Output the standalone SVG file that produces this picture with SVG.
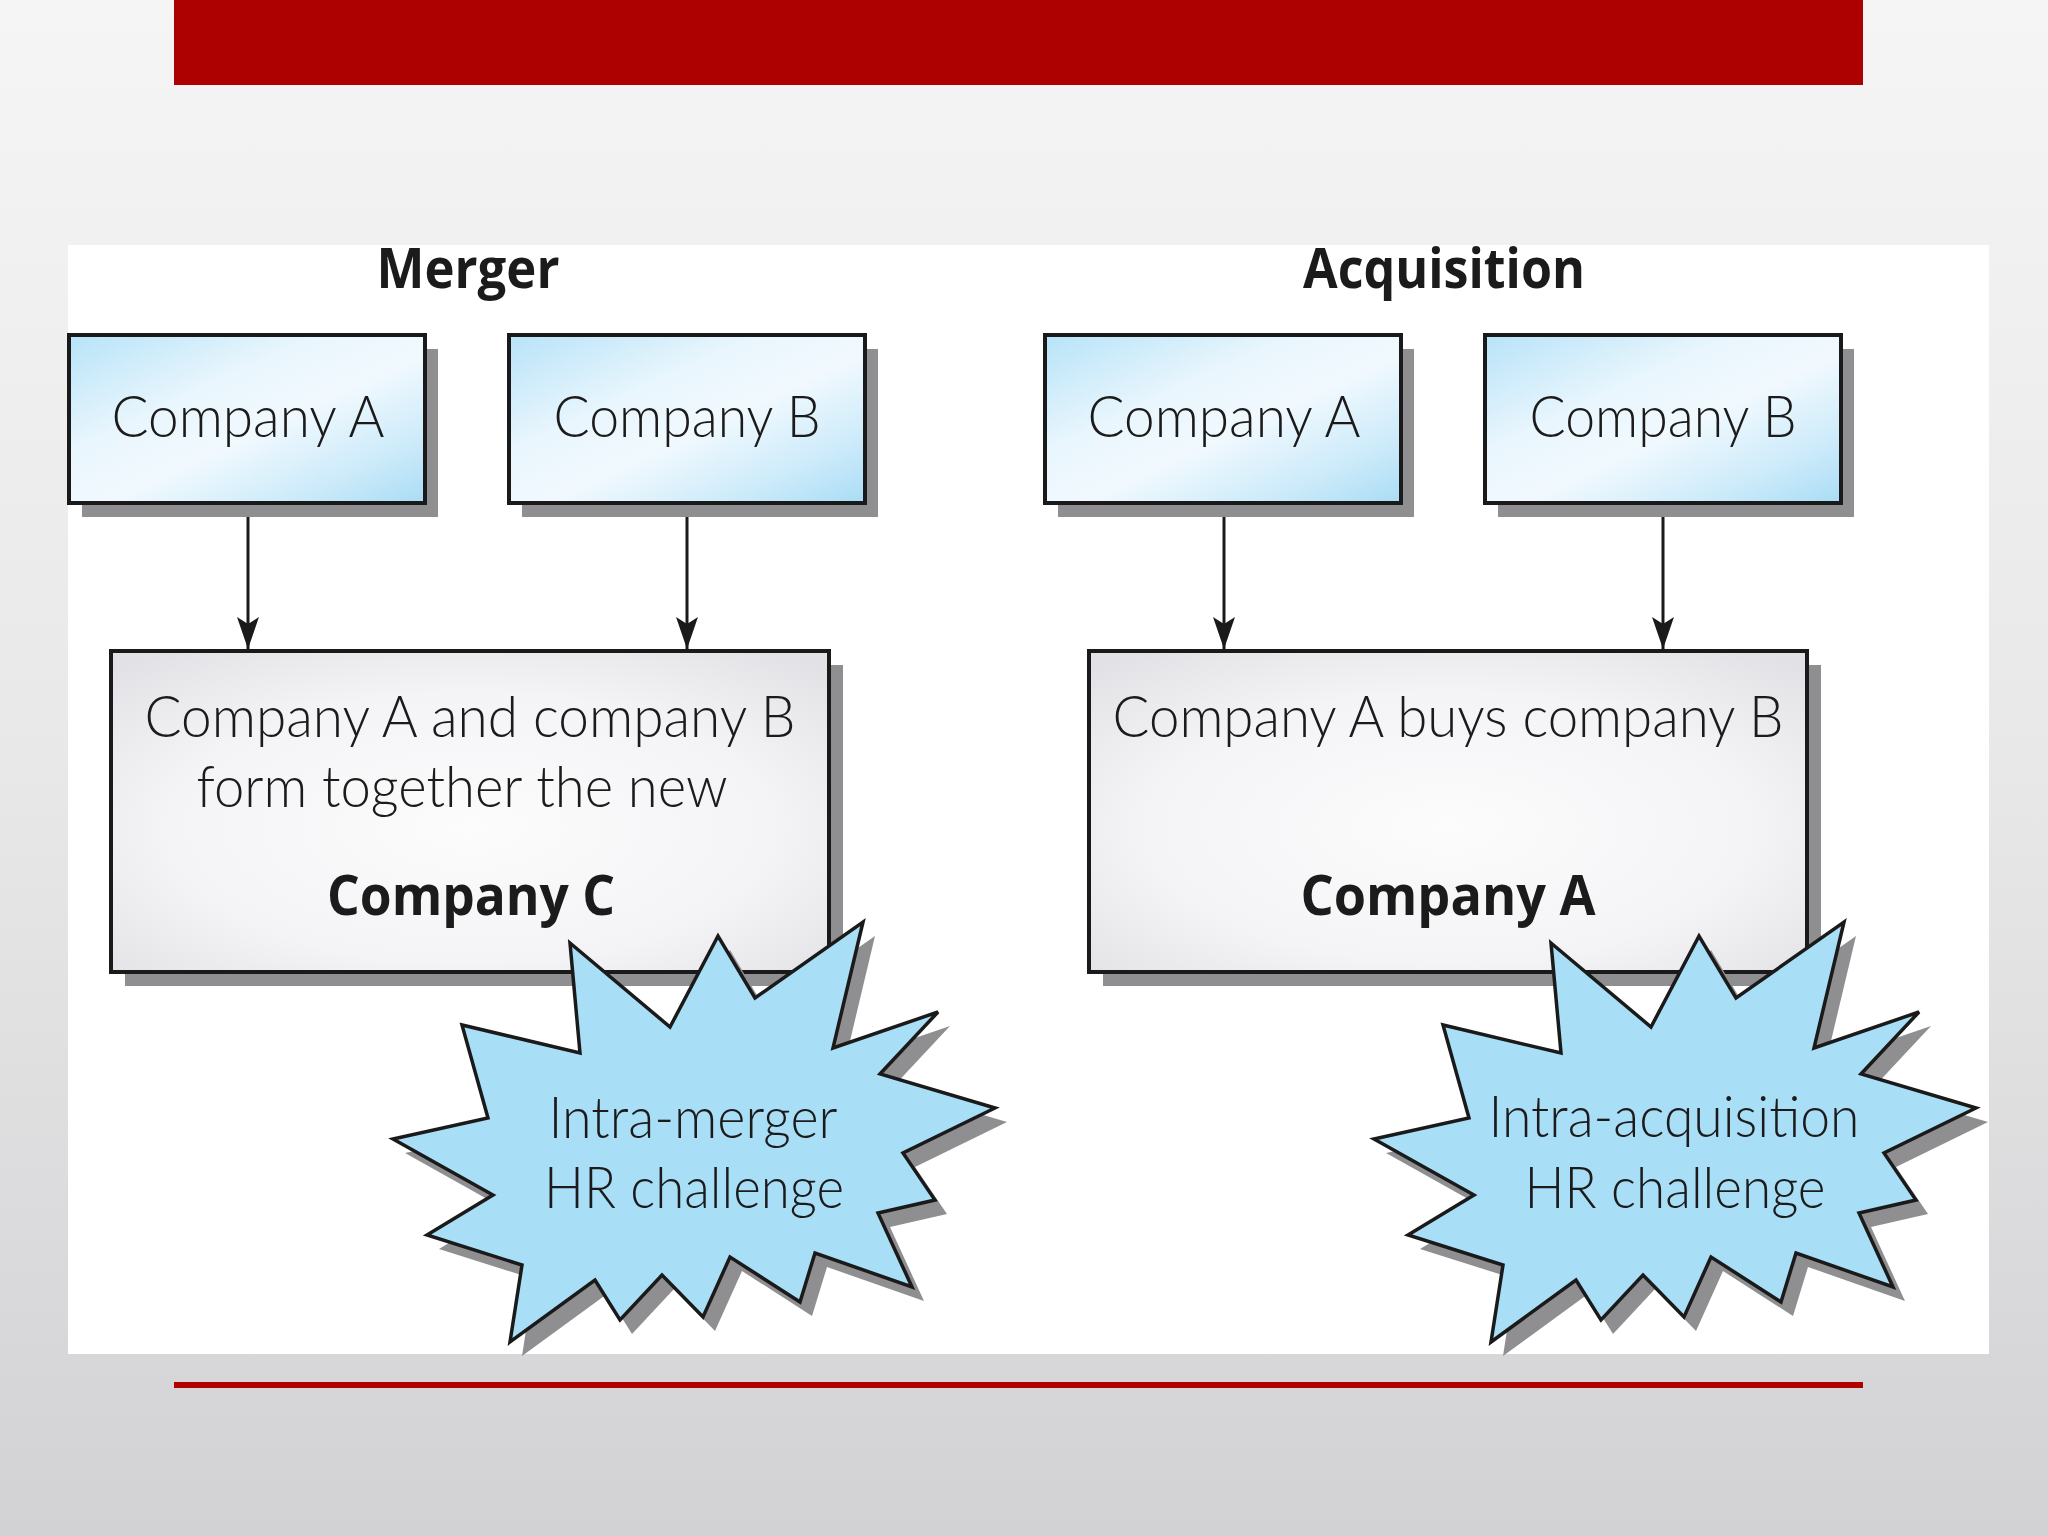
<svg xmlns="http://www.w3.org/2000/svg" xmlns:xlink="http://www.w3.org/1999/xlink" width="2048" height="1536" viewBox="0 0 2048 1536">
<defs>
<style>
.light{font-family:Lato,"Open Sans","Liberation Sans",sans-serif;font-weight:300;fill:#1b1b1b;text-anchor:middle}
.bold{font-family:"Open Sans","Noto Sans","Liberation Sans",sans-serif;font-weight:700;fill:#1b1b1b;text-anchor:middle}
.topbox{fill:url(#blueFill);stroke:#1a1a1a;stroke-width:4}
.botbox{fill:url(#grayFill);stroke:#1a1a1a;stroke-width:4}
.shadow{fill:#8f8f92}
.star{fill:#a9def7;stroke:#1a1a1a;stroke-width:3.5;stroke-linejoin:miter}
.starShadow{fill:#8f8f92}
.conn{stroke:#1a1a1a;stroke-width:3;fill:none}
</style>
<linearGradient id="bg" x1="0" y1="0" x2="0" y2="1">
<stop offset="0" stop-color="#f5f5f5"/>
<stop offset="0.5" stop-color="#e8e8e9"/>
<stop offset="1" stop-color="#d2d2d4"/>
</linearGradient>
<linearGradient id="blueFill" x1="0" y1="0" x2="1" y2="1">
<stop offset="0" stop-color="#b7e3f8"/>
<stop offset="0.35" stop-color="#e9f6fd"/>
<stop offset="0.55" stop-color="#f1f9fe"/>
<stop offset="0.8" stop-color="#cdebfa"/>
<stop offset="1" stop-color="#a9dcf5"/>
</linearGradient>
<radialGradient id="grayFill" cx="0.5" cy="0.55" r="0.7">
<stop offset="0" stop-color="#fcfcfd"/>
<stop offset="0.6" stop-color="#f4f4f6"/>
<stop offset="1" stop-color="#e2e2e6"/>
</radialGradient>
<marker id="arrow" viewBox="0 0 32 22" refX="32" refY="11" markerWidth="32" markerHeight="22" markerUnits="userSpaceOnUse" orient="auto">
<path d="M0,0 L32,11 L0,22 L7,11 Z" fill="#1a1a1a"/>
</marker>
<polygon id="starShape" points="570,943 670,1027 718,936 755,998 863,922 833,1048 938,1012 880,1074 995,1108 903,1153 935,1200 878,1213 912,1287 815,1253 800,1302 730,1257 703,1317 662,1275 620,1320 595,1280 510,1342 522,1265 427,1235 493,1195 393,1139 488,1118 462,1025 580,1053"/>
</defs>

<rect x="0" y="0" width="2048" height="1536" fill="url(#bg)"/>
<rect x="174" y="0" width="1689" height="85" fill="#ad0000"/>
<rect x="68" y="245" width="1921" height="1109" fill="#ffffff"/>
<rect x="174" y="1382" width="1689" height="6" fill="#b00000"/>

<text class="bold" x="468" y="288" font-size="56" textLength="183" lengthAdjust="spacingAndGlyphs">Merger</text>
<text class="bold" x="1444" y="288" font-size="56" textLength="282" lengthAdjust="spacingAndGlyphs">Acquisition</text>

<g id="connectors">
<line class="conn" x1="248" y1="505" x2="248" y2="649" marker-end="url(#arrow)"/>
<line class="conn" x1="687" y1="505" x2="687" y2="649" marker-end="url(#arrow)"/>
<line class="conn" x1="1224" y1="505" x2="1224" y2="649" marker-end="url(#arrow)"/>
<line class="conn" x1="1663" y1="505" x2="1663" y2="649" marker-end="url(#arrow)"/>
</g>

<g id="merger-company-a">
<rect class="shadow" x="82" y="349" width="356" height="168"/>
<rect class="topbox" x="69" y="335" width="356" height="168"/>
<text class="light" x="248" y="437" font-size="57" textLength="273" lengthAdjust="spacingAndGlyphs">Company A</text>
</g>
<g id="merger-company-b">
<rect class="shadow" x="522" y="349" width="356" height="168"/>
<rect class="topbox" x="509" y="335" width="356" height="168"/>
<text class="light" x="687" y="437" font-size="57" textLength="267" lengthAdjust="spacingAndGlyphs">Company B</text>
</g>
<g id="acq-company-a">
<rect class="shadow" x="1058" y="349" width="356" height="168"/>
<rect class="topbox" x="1045" y="335" width="356" height="168"/>
<text class="light" x="1224" y="437" font-size="57" textLength="273" lengthAdjust="spacingAndGlyphs">Company A</text>
</g>
<g id="acq-company-b">
<rect class="shadow" x="1498" y="349" width="356" height="168"/>
<rect class="topbox" x="1485" y="335" width="356" height="168"/>
<text class="light" x="1663" y="437" font-size="57" textLength="267" lengthAdjust="spacingAndGlyphs">Company B</text>
</g>

<g id="merger-company-c">
<rect class="shadow" x="125" y="665" width="718" height="321"/>
<rect class="botbox" x="111" y="651" width="718" height="321"/>
<text class="light" x="470" y="737" font-size="57" textLength="651" lengthAdjust="spacingAndGlyphs">Company A and company B</text>
<text class="light" x="462" y="807" font-size="57" textLength="531" lengthAdjust="spacingAndGlyphs">form together the new</text>
<text class="bold" x="471" y="915" font-size="56" textLength="288" lengthAdjust="spacingAndGlyphs">Company C</text>
</g>
<g id="acq-company-a-result">
<rect class="shadow" x="1103" y="665" width="718" height="321"/>
<rect class="botbox" x="1089" y="651" width="718" height="321"/>
<text class="light" x="1448" y="737" font-size="57" textLength="671" lengthAdjust="spacingAndGlyphs">Company A buys company B</text>
<text class="bold" x="1448" y="915" font-size="56" textLength="295" lengthAdjust="spacingAndGlyphs">Company A</text>
</g>

<g id="intra-merger-challenge">
<use xlink:href="#starShape" class="starShadow" transform="translate(12,14)"/>
<use xlink:href="#starShape" class="star"/>
<text class="light" x="693" y="1138" font-size="57" textLength="289" lengthAdjust="spacingAndGlyphs">Intra-merger</text>
<text class="light" x="694" y="1208" font-size="57" textLength="300" lengthAdjust="spacingAndGlyphs">HR challenge</text>
</g>
<g id="intra-acquisition-challenge">
<use xlink:href="#starShape" class="starShadow" transform="translate(993,14)"/>
<use xlink:href="#starShape" class="star" transform="translate(981,0)"/>
<text class="light" x="1674" y="1137" font-size="57" textLength="371" lengthAdjust="spacingAndGlyphs">Intra-acquisition</text>
<text class="light" x="1675" y="1208" font-size="57" textLength="301" lengthAdjust="spacingAndGlyphs">HR challenge</text>
</g>
</svg>
